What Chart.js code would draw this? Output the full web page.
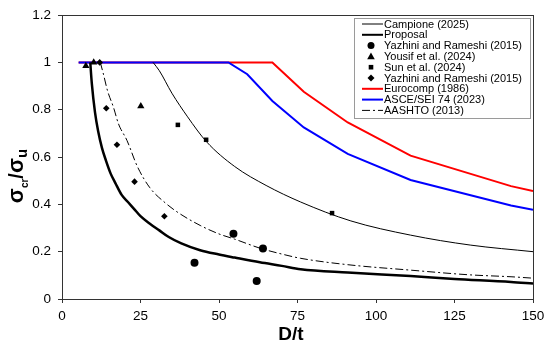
<!DOCTYPE html>
<html>
<head>
<meta charset="utf-8">
<script src="https://cdn.jsdelivr.net/npm/chart.js@4"></script>
<style>
  html, body { margin: 0; padding: 0; background: #fff; }
  #wrap { width: 550px; height: 347px; position: relative; }
</style>
</head>
<body>
<div id="wrap"><canvas id="myChart"></canvas></div>
<script>
// axis ticks
var xTicks = [0, 25, 50, 75, 100, 125, 150];
var yTicks = [0, 0.2, 0.4, 0.6, 0.8, 1, 1.2];

// design curves (D/t, sigma_cr/sigma_u)
var campioneX = [29, 31, 35, 40, 46, 55, 65, 76, 92, 111, 130, 150];
var campioneY = [1.0, 0.965, 0.87, 0.77, 0.665, 0.56, 0.48, 0.41, 0.33, 0.27, 0.228, 0.2];

var proposalX = [9, 9.5, 10.5, 11.5, 12.7, 14, 15.5, 17, 19, 21, 23, 25, 28, 31, 34, 38, 44, 50, 55, 63, 70, 76, 91, 111, 125, 143, 150];
var proposalY = [1.0, 0.91, 0.79, 0.71, 0.64, 0.585, 0.53, 0.49, 0.44, 0.41, 0.38, 0.35, 0.318, 0.29, 0.262, 0.235, 0.206, 0.188, 0.175, 0.155, 0.14, 0.126, 0.112, 0.097, 0.085, 0.072, 0.065];

var aashtoX = [12.2, 13.2, 14.5, 16.4, 18, 20.7, 24, 28, 33, 37, 44, 50, 55, 63, 70, 76, 91, 111, 130, 143, 150];
var aashtoY = [1.0, 0.95, 0.88, 0.81, 0.74, 0.67, 0.56, 0.47, 0.405, 0.365, 0.311, 0.275, 0.253, 0.215, 0.19, 0.172, 0.145, 0.122, 0.102, 0.094, 0.088];

var eurocompX = [5.3, 67, 77, 91, 111, 143, 150];
var eurocompY = [1.0, 1.0, 0.876, 0.746, 0.606, 0.477, 0.456];

var asceX = [5.3, 53, 59, 67, 77, 91, 111, 143, 150];
var asceY = [1.0, 1.0, 0.95, 0.837, 0.725, 0.613, 0.503, 0.395, 0.377];

// test data
var yazhiniCircX = [42.2, 54.6, 62, 64];
var yazhiniCircY = [0.153, 0.276, 0.076, 0.213];
var yousifX = [7.6, 10.1, 25.1];
var yousifY = [0.985, 1.0, 0.815];
var sunX = [36.9, 45.9, 86];
var sunY = [0.736, 0.673, 0.363];
var yazhiniDiaX = [12, 14.1, 17.5, 23.1, 32.6];
var yazhiniDiaY = [1.0, 0.806, 0.652, 0.496, 0.35];

function pts(xs, ys) {
  return xs.map(function (x, i) { return { x: x, y: ys[i] }; });
}

var FONT = "'Liberation Sans', Arial, sans-serif";
var AXIS = "#333333";
var DASHDOT = [8, 3, 2, 3];

function lineSet(label, xs, ys, color, width, extra) {
  var ds = {
    label: label,
    data: pts(xs, ys),
    showLine: true,
    borderColor: color,
    backgroundColor: color,
    borderWidth: width,
    pointRadius: 0,
    pointHoverRadius: 0,
    fill: false,
  };
  for (var k in extra) ds[k] = extra[k];
  return ds;
}

function markerSet(label, xs, ys, style, radius) {
  return {
    label: label,
    data: pts(xs, ys),
    showLine: false,
    pointStyle: style,
    pointRadius: radius,
    pointHoverRadius: radius,
    pointBackgroundColor: "#000",
    pointBorderColor: "#000",
    pointBorderWidth: 0,
  };
}

// first dataset is drawn on top
var datasets = [
  markerSet("Yazhini and Rameshi (2015)", yazhiniCircX, yazhiniCircY, "circle", 4),
  markerSet("Yousif et al. (2024)", yousifX, yousifY, "triangle", 4.2),
  markerSet("Sun et al. (2024)", sunX, sunY, "rect", 3.2),
  markerSet("Yazhini and Rameshi (2015)", yazhiniDiaX, yazhiniDiaY, "rectRot", 3.3),
  lineSet("Proposal", proposalX, proposalY, "#000", 2.5, { cubicInterpolationMode: "monotone" }),
  lineSet("Campione (2025)", campioneX, campioneY, "#000", 1, { cubicInterpolationMode: "monotone" }),
  lineSet("AASHTO (2013)", aashtoX, aashtoY, "#000", 1, { cubicInterpolationMode: "monotone", borderDash: DASHDOT }),
  lineSet("ASCE/SEI 74 (2023)", asceX, asceY, "#0000ff", 2, {}),
  lineSet("Eurocomp (1986)", eurocompX, eurocompY, "#ff0000", 2, {}),
];

// legend rows, in the figure's order
var legendItems = [
  { text: "Campione (2025)", kind: "line", color: "#000", width: 1 },
  { text: "Proposal", kind: "line", color: "#000", width: 2 },
  { text: "Yazhini and Rameshi (2015)", kind: "circle" },
  { text: "Yousif et al. (2024)", kind: "triangle" },
  { text: "Sun et al. (2024)", kind: "rect" },
  { text: "Yazhini and Rameshi (2015)", kind: "rectRot" },
  { text: "Eurocomp (1986)", kind: "line", color: "#ff0000", width: 2 },
  { text: "ASCE/SEI 74 (2023)", kind: "line", color: "#0000ff", width: 2 },
  { text: "AASHTO (2013)", kind: "line", color: "#000", width: 1, dash: DASHDOT },
];

var decorPlugin = {
  id: "decor",
  afterDatasetsDraw: function (chart) {
    var ctx = chart.ctx;
    var a = chart.chartArea;
    ctx.save();
    // frame
    ctx.strokeStyle = AXIS;
    ctx.lineWidth = 1;
    ctx.strokeRect(Math.round(a.left) + 0.5, Math.round(a.top) + 0.5,
      Math.round(a.right - a.left), Math.round(a.bottom - a.top));

    // legend box
    var bx = 354, by = 18, bw = 176, bh = 100;
    ctx.fillStyle = "#fff";
    ctx.fillRect(bx, by, bw, bh);
    ctx.strokeStyle = "#9a9a9a";
    ctx.strokeRect(bx + 0.5, by + 0.5, bw, bh);
    ctx.font = "11px " + FONT;
    ctx.textBaseline = "middle";
    ctx.textAlign = "left";
    legendItems.forEach(function (it, i) {
      var y = 24 + i * 10.8;
      var mx = 371;
      ctx.fillStyle = "#000";
      if (it.kind === "line") {
        ctx.beginPath();
        ctx.setLineDash(it.dash || []);
        ctx.strokeStyle = it.color;
        ctx.lineWidth = it.width;
        ctx.moveTo(362, y);
        ctx.lineTo(383, y);
        ctx.stroke();
        ctx.setLineDash([]);
      } else if (it.kind === "circle") {
        ctx.beginPath();
        ctx.arc(mx, y, 3.5, 0, Math.PI * 2);
        ctx.fill();
      } else if (it.kind === "triangle") {
        ctx.beginPath();
        ctx.moveTo(mx, y - 4);
        ctx.lineTo(mx + 3.8, y + 2.8);
        ctx.lineTo(mx - 3.8, y + 2.8);
        ctx.closePath();
        ctx.fill();
      } else if (it.kind === "rect") {
        ctx.fillRect(mx - 2.3, y - 2.3, 4.6, 4.6);
      } else if (it.kind === "rectRot") {
        ctx.beginPath();
        ctx.moveTo(mx, y - 3.5);
        ctx.lineTo(mx + 3.5, y);
        ctx.lineTo(mx, y + 3.5);
        ctx.lineTo(mx - 3.5, y);
        ctx.closePath();
        ctx.fill();
      }
      ctx.fillStyle = "#000";
      ctx.fillText(it.text, 384, y + 0.5);
    });

    // x title
    ctx.font = "bold 19px " + FONT;
    ctx.textAlign = "center";
    ctx.textBaseline = "middle";
    ctx.fillText("D/t", 291, 335);

    // y title: sigma_cr / sigma_u, rotated
    ctx.translate(16, 176);
    ctx.rotate(-Math.PI / 2);
    var parts = [
      { t: "σ", f: "bold 22px " + FONT, dy: 0 },
      { t: "cr", f: "bold 10px " + FONT, dy: 5 },
      { t: "/", f: "bold 20px " + FONT, dy: 0 },
      { t: "σ", f: "bold 22px " + FONT, dy: 0 },
      { t: "u", f: "bold 15px " + FONT, dy: 4 },
    ];
    var total = 0;
    parts.forEach(function (p) { ctx.font = p.f; p.w = ctx.measureText(p.t).width; total += p.w; });
    var x = -total / 2;
    ctx.textAlign = "left";
    ctx.textBaseline = "alphabetic";
    parts.forEach(function (p) {
      ctx.font = p.f;
      ctx.fillText(p.t, x, 7 + p.dy);
      x += p.w;
    });
    ctx.restore();
  },
};

var ctx = document.getElementById("myChart").getContext("2d");

var myChart = new Chart(ctx, {
  type: "scatter",
  data: { datasets: datasets },
  options: {
    responsive: true,
    maintainAspectRatio: false,
    animation: false,
    layout: { padding: { left: 0, right: 17, top: 14, bottom: 0 } },
    plugins: {
      legend: { display: false },
      tooltip: { enabled: false },
    },
    scales: {
      x: {
        type: "linear",
        min: 0,
        max: 150,
        afterBuildTicks: function (scale) {
          scale.ticks = xTicks.map(function (v) { return { value: v }; });
        },
        ticks: { color: "#000", font: { family: FONT, size: 13.5 }, padding: 5, maxRotation: 0 },
        grid: { display: true, drawOnChartArea: false, drawTicks: true, tickLength: 4, color: AXIS },
        border: { display: true, color: AXIS, width: 1 },
        afterFit: function (scale) { scale.height = 48; },
      },
      y: {
        type: "linear",
        min: 0,
        max: 1.2,
        afterBuildTicks: function (scale) {
          scale.ticks = yTicks.map(function (v) { return { value: v }; });
        },
        ticks: {
          color: "#000",
          font: { family: FONT, size: 13.5 },
          padding: 7,
          callback: function (value) { return String(Math.round(value * 10) / 10); },
        },
        grid: { display: true, drawOnChartArea: false, drawTicks: true, tickLength: 4, color: AXIS },
        border: { display: true, color: AXIS, width: 1 },
        afterFit: function (scale) { scale.width = 62; },
      },
    },
  },
  plugins: [decorPlugin],
});
</script>
</body>
</html>
